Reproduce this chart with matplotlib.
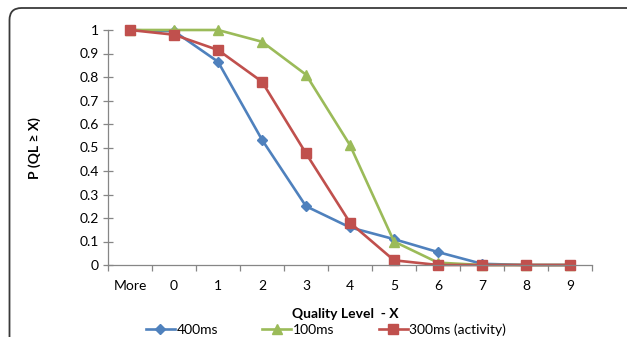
import matplotlib.pyplot as plt
from matplotlib.patches import FancyBboxPatch

categories = ["More", "0", "1", "2", "3", "4", "5", "6", "7", "8", "9"]
p_400ms = [1.0, 0.995, 0.865, 0.533, 0.25, 0.16, 0.11, 0.055, 0.005, 0.0, 0.0]
p_100ms = [1.0, 1.0, 1.0, 0.95, 0.81, 0.51, 0.10, 0.01, 0.0, 0.0, 0.0]
p_300ms = [1.0, 0.98, 0.915, 0.78, 0.475, 0.18, 0.02, 0.0, 0.0, 0.0, 0.0]
y_ticks = [0, 0.1, 0.2, 0.3, 0.4, 0.5, 0.6, 0.7, 0.8, 0.9, 1]
y_labels = ["0", "0.1", "0.2", "0.3", "0.4", "0.5", "0.6", "0.7", "0.8", "0.9", "1"]

plt.rcParams['font.family'] = ['Lato', 'DejaVu Sans']
plt.rcParams['font.size'] = 10

W, H = 627, 337
fig = plt.figure(figsize=(W / 100, H / 100), dpi=100)

# rounded chart border (cut off at the right and bottom)
border = FancyBboxPatch((9.5, -60), 700, (H - 8) + 60,
                        boxstyle="round,pad=0,rounding_size=12",
                        transform=None, fill=False, edgecolor="#3a3a3a",
                        linewidth=1.3, zorder=0)
fig.patches.append(border)

ax = fig.add_axes([108 / W, (H - 265) / H, (592 - 108) / W, (265 - 30) / H])
x = list(range(len(categories)))

ax.plot(x, p_400ms, color="#4F81BD", marker="D", markersize=5, linewidth=1.9,
        label="400ms", clip_on=False)
ax.plot(x, p_100ms, color="#9BBB59", marker="^", markersize=7, linewidth=1.9,
        label="100ms", clip_on=False)
ax.plot(x, p_300ms, color="#C0504D", marker="s", markersize=6.5, linewidth=1.9,
        label="300ms (activity)", clip_on=False)

ax.set_xlim(-0.5, len(categories) - 0.5)
ax.set_ylim(0, 1)
ax.set_xticks(x)
ax.set_xticklabels(categories)
ax.set_xticks([i - 0.5 for i in range(len(categories) + 1)], minor=True)
ax.set_yticks(y_ticks)
ax.set_yticklabels(y_labels)

for s in ["top", "right"]:
    ax.spines[s].set_visible(False)
for s in ["left", "bottom"]:
    ax.spines[s].set_color("#868686")
    ax.spines[s].set_linewidth(0.9)

ax.tick_params(axis="x", which="major", length=0, pad=11, colors="#000000")
ax.tick_params(axis="x", which="minor", length=4, color="#868686", width=0.9)
ax.tick_params(axis="y", direction="inout", length=7, color="#868686", width=0.9,
               pad=3)

fig.text(35 / W, 1 - 148 / H, "P (QL \u2265 X)", rotation=90, ha="center",
         va="center", fontweight="bold", fontsize=10)
fig.text(345 / W, 1 - 314 / H, "Quality Level  - X", ha="center", va="center",
         fontweight="bold", fontsize=10)

fig.legend(loc="center", bbox_to_anchor=(326 / W, 1 - 330 / H), ncol=3,
           frameon=False, handlelength=2.1, handletextpad=0.1,
           columnspacing=3.2, fontsize=10, borderpad=0)

fig.savefig("out.png", dpi=100)
